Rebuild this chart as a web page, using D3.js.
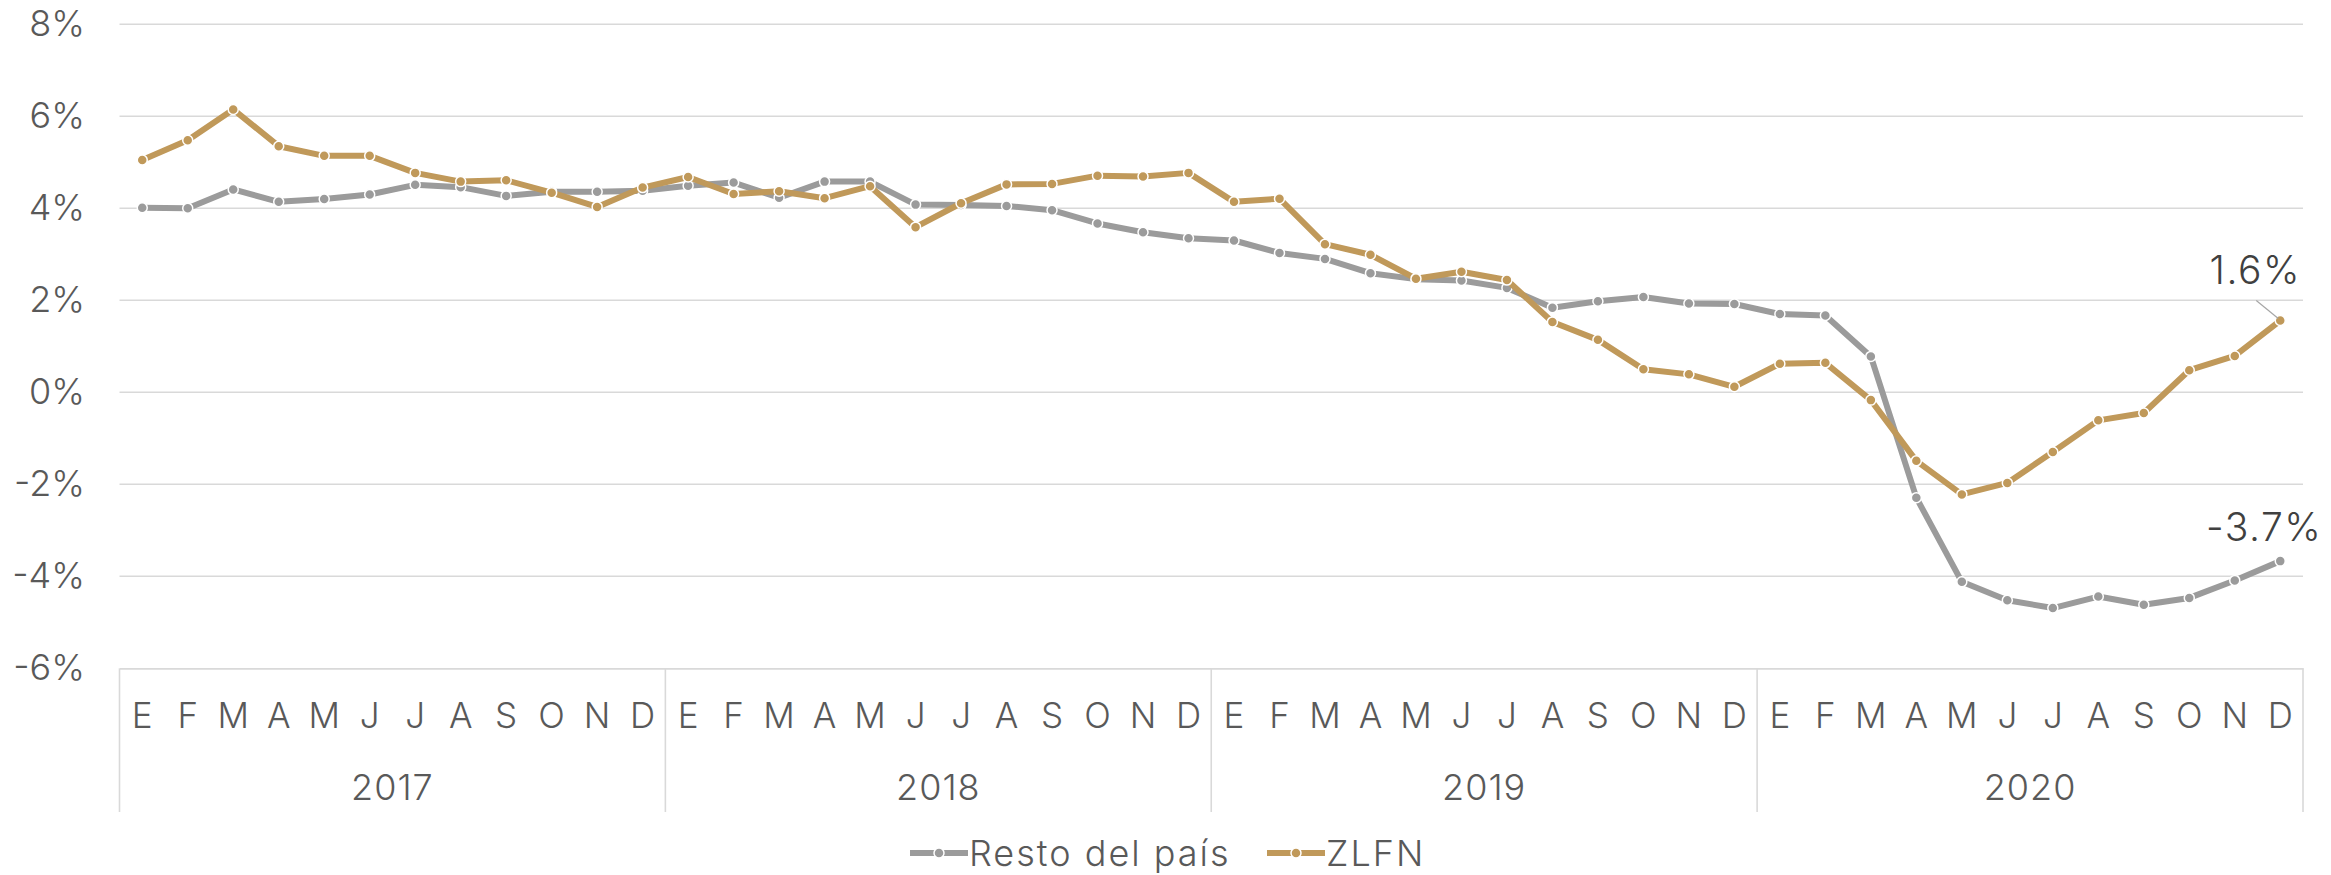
<!DOCTYPE html>
<html>
<head>
<meta charset="utf-8">
<script src="https://cdn.jsdelivr.net/npm/d3@7"></script>
<style>
  html, body { margin: 0; padding: 0; background: #ffffff; }
  svg { display: block; }
  text { font-family: "Inter", "Open Sans", "DejaVu Sans", sans-serif; font-weight: 300; fill: #595959; }
</style>
</head>
<body>
<div id="chart"></div>
<script>
const months = ["E","F","M","A","M","J","J","A","S","O","N","D"];
const years = ["2017","2018","2019","2020"];
const yTicks = [-6, -4, -2, 0, 2, 4, 6, 8];

const resto = [
  4.01, 4.00, 4.41, 4.14, 4.20, 4.30, 4.51, 4.46, 4.27, 4.36, 4.36, 4.38,
  4.49, 4.56, 4.23, 4.58, 4.58, 4.08, 4.07, 4.05, 3.96, 3.67, 3.48, 3.35,
  3.30, 3.03, 2.90, 2.59, 2.46, 2.43, 2.27, 1.84, 1.98, 2.07, 1.93, 1.92,
  1.70, 1.67, 0.78, -2.29, -4.12, -4.52, -4.69, -4.44, -4.62, -4.47, -4.09, -3.67
];
const zlfn = [
  5.05, 5.48, 6.15, 5.35, 5.14, 5.14, 4.77, 4.58, 4.61, 4.34, 4.03, 4.45,
  4.68, 4.31, 4.37, 4.22, 4.48, 3.59, 4.11, 4.52, 4.53, 4.71, 4.69, 4.77,
  4.14, 4.21, 3.22, 2.99, 2.47, 2.62, 2.44, 1.53, 1.14, 0.50, 0.39, 0.12,
  0.62, 0.64, -0.17, -1.49, -2.22, -1.97, -1.30, -0.61, -0.45, 0.48, 0.79, 1.56
];
const seriesNames = ["Resto del país", "ZLFN"];
const seriesColors = ["#9b9b9b", "#c0995a"];
const endLabels = ["-3.7%", "1.6%"];

const W = 2331, H = 875;
const svg = d3.select("#chart").append("svg").attr("width", W).attr("height", H);

const idx = d3.range(years.length * months.length);
const x = d3.scaleBand().domain(idx).range([119.5, 2303]).paddingInner(0).paddingOuter(0);
const y = d3.scaleLinear().domain([-6, 8]).range([668.3, 24.3]);
const cx = i => x(i) + x.bandwidth() / 2;

// gridlines
svg.append("g").selectAll("line").data(yTicks.filter(t => t !== -6)).join("line")
  .attr("x1", 119.5).attr("x2", 2303)
  .attr("y1", d => y(d)).attr("y2", d => y(d))
  .attr("stroke", "#d9d9d9").attr("stroke-width", 1.6);

// y axis labels
const yAxis = d3.axisLeft(y).tickValues(yTicks).tickFormat(d => d + "%").tickSize(0).tickPadding(0);
const gy = svg.append("g").attr("transform", "translate(85,0)").call(yAxis);
gy.select(".domain").remove();
gy.selectAll("text").attr("font-size", 36).attr("fill", "#595959")
  .style("font-family", "Inter, 'Open Sans', sans-serif").style("font-weight", 300);

// x axis (months)
const xAxis = d3.axisBottom(x).tickFormat(i => months[i % 12]).tickSize(0).tickPadding(0);
const gx = svg.append("g").attr("transform", "translate(0," + y(-6) + ")").call(xAxis);
gx.select(".domain").attr("stroke", "#d9d9d9").attr("stroke-width", 1.8);
gx.selectAll("text").attr("font-size", 35).attr("fill", "#595959")
  .attr("dy", null).attr("y", 47).attr("dominant-baseline", "central")
  .style("font-family", "Inter, 'Open Sans', sans-serif").style("font-weight", 300);

// year separators
const sepX = d3.range(years.length + 1).map(k => k === years.length ? 2303 : x(k * 12));
svg.append("g").selectAll("line").data(sepX).join("line")
  .attr("x1", d => d).attr("x2", d => d)
  .attr("y1", y(-6)).attr("y2", 812)
  .attr("stroke", "#d9d9d9").attr("stroke-width", 1.6);

// year labels
svg.append("g").selectAll("text").data(years).join("text")
  .attr("x", (d, k) => (x(k * 12) + (k === years.length - 1 ? 2303 : x((k + 1) * 12))) / 2)
  .attr("y", 787).attr("text-anchor", "middle").attr("dominant-baseline", "central")
  .attr("font-size", 36).attr("letter-spacing", 1).text(d => d);

// lines
const data = [resto, zlfn];
const line = d3.line().x((d, i) => cx(i)).y(d => y(d));
data.forEach((s, k) => {
  const g = svg.append("g");
  g.append("path").datum(s).attr("d", line).attr("fill", "none")
    .attr("stroke", seriesColors[k]).attr("stroke-width", 6).attr("stroke-linejoin", "round");
  g.selectAll("circle").data(s).join("circle")
    .attr("cx", (d, i) => cx(i)).attr("cy", d => y(d)).attr("r", 5)
    .attr("fill", seriesColors[k]).attr("stroke", "#ffffff").attr("stroke-width", 1.5);
});

// end labels
const last = idx.length - 1;
const lx = cx(last);
svg.append("line")
  .attr("x1", lx - 24).attr("y1", y(zlfn[last]) - 20)
  .attr("x2", lx - 2).attr("y2", y(zlfn[last]) - 2)
  .attr("stroke", "#a6a6a6").attr("stroke-width", 1.2);
svg.append("text").attr("x", lx - 25).attr("y", y(zlfn[last]) - 51)
  .attr("text-anchor", "middle").attr("dominant-baseline", "central")
  .attr("font-size", 39).attr("letter-spacing", 1.5).style("fill", "#404040").text(endLabels[1]);
svg.append("text").attr("x", lx - 16).attr("y", y(resto[last]) - 35)
  .attr("text-anchor", "middle").attr("dominant-baseline", "central")
  .attr("font-size", 39).attr("letter-spacing", 1.5).style("fill", "#404040").text(endLabels[0]);

// legend
const legendItems = [{x: 910, k: 0}, {x: 1267, k: 1}];
const lg = svg.append("g");
legendItems.forEach(it => {
  const ly = 853;
  lg.append("line").attr("x1", it.x).attr("x2", it.x + 58).attr("y1", ly).attr("y2", ly)
    .attr("stroke", seriesColors[it.k]).attr("stroke-width", 6);
  lg.append("circle").attr("cx", it.x + 29).attr("cy", ly).attr("r", 5)
    .attr("fill", seriesColors[it.k]).attr("stroke", "#fff").attr("stroke-width", 1.5);
  lg.append("text").attr("x", it.x + 59).attr("y", ly).attr("dominant-baseline", "central")
    .attr("font-size", 36).attr("letter-spacing", 2).text(seriesNames[it.k]);
});
</script>
</body>
</html>
